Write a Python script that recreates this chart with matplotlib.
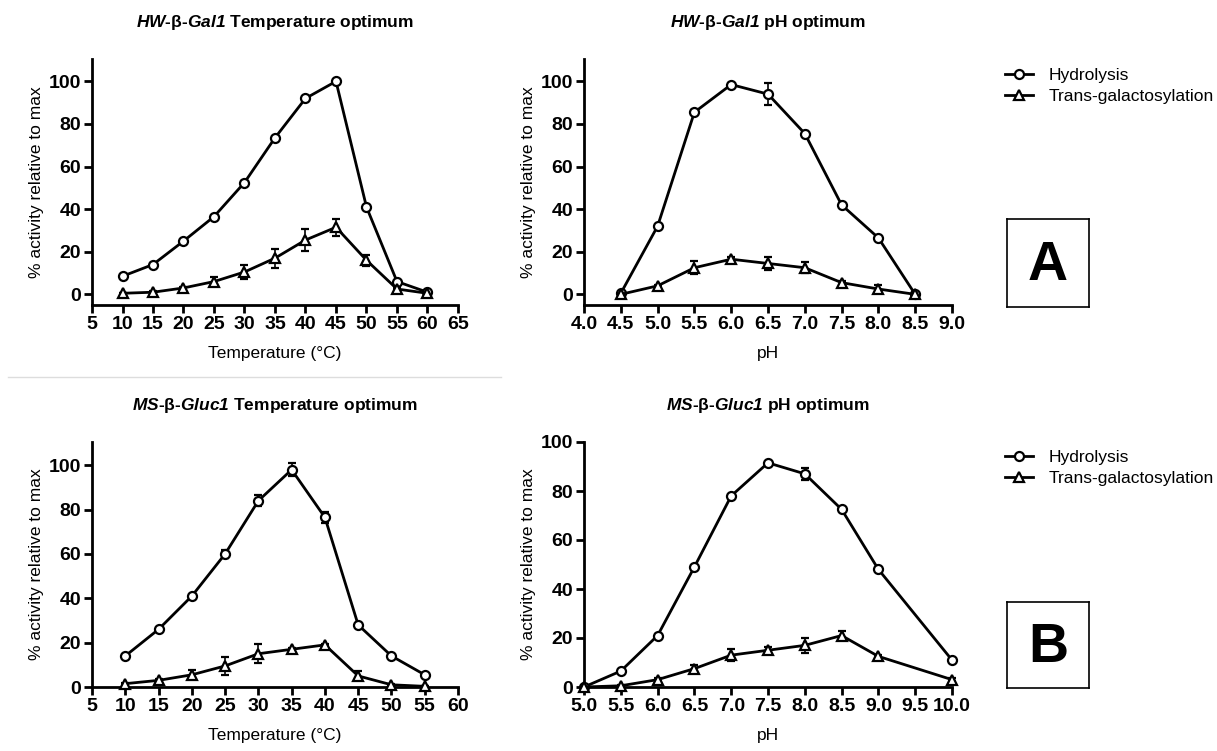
import matplotlib
matplotlib.use("Agg")
import matplotlib.pyplot as plt
from matplotlib.lines import Line2D
import numpy as np

plt.rcParams['font.family'] = ['Liberation Sans', 'DejaVu Sans']
plt.rcParams['mathtext.fontset'] = 'custom'
plt.rcParams['mathtext.it'] = 'Liberation Sans:italic:bold'
plt.rcParams['mathtext.rm'] = 'Liberation Sans:italic:bold'

# HW-beta-Gal1 temperature
hw_temp = [10, 15, 20, 25, 30, 35, 40, 45, 50, 55, 60]
hw_temp_hyd = [8.5, 14, 25, 36.5, 52.5, 73.5, 92, 100, 41, 6, 1]
hw_temp_hyd_err = [0.5, 0.5, 0.5, 0.5, 0.5, 0.5, 0.5, 0.5, 0.5, 0.5, 0]
hw_temp_tr = [0.5, 1, 3, 6, 10.5, 17, 25.5, 31.5, 16, 2.5, 0.5]
hw_temp_tr_err = [0, 0.5, 0.5, 2, 3.2, 4.5, 5, 4, 2.5, 0.5, 0]

# HW-beta-Gal1 pH
hw_ph = [4.5, 5.0, 5.5, 6.0, 6.5, 7.0, 7.5, 8.0, 8.5]
hw_ph_hyd = [0.5, 32, 85.5, 98.5, 94, 75.5, 42, 26.5, 0]
hw_ph_hyd_err = [0.5, 0.5, 1, 0.5, 5, 1, 0.5, 0.5, 0]
hw_ph_tr = [0, 4, 12.5, 16.5, 14.5, 12.5, 5.5, 2.5, 0]
hw_ph_tr_err = [0, 0.5, 3, 1, 3, 2.5, 1, 2, 0]

# MS-beta-Gluc1 temperature
ms_temp = [10, 15, 20, 25, 30, 35, 40, 45, 50, 55]
ms_temp_hyd = [14, 26, 41, 60, 84, 98, 76.5, 28, 14, 5.5]
ms_temp_hyd_err = [0.5, 0.5, 0.5, 2, 2.5, 3, 2.5, 0.5, 0.5, 0]
ms_temp_tr = [1.5, 3, 5.5, 9.5, 15, 17, 19, 5, 1, 0.3]
ms_temp_tr_err = [0.5, 0.5, 2, 4, 4.3, 0.5, 0.5, 2, 0.5, 0]

# MS-beta-Gluc1 pH
ms_ph = [5.0, 5.5, 6.0, 6.5, 7.0, 7.5, 8.0, 8.5, 9.0, 10.0]
ms_ph_hyd = [0, 6.5, 21, 49, 78, 91.5, 87, 72.5, 48, 11]
ms_ph_hyd_err = [0, 0.5, 0.5, 0.5, 0.5, 0.5, 2.5, 0.5, 0.5, 0.5]
ms_ph_tr = [0, 0.5, 3, 7.5, 13, 15, 17, 21, 12.5, 3]
ms_ph_tr_err = [0, 0.5, 0.5, 1.5, 2.5, 1.5, 3, 2, 0.5, 0.5]

titles = [r'$\mathit{HW}$-β-$\mathit{Gal1}$ Temperature optimum',
          r'$\mathit{HW}$-β-$\mathit{Gal1}$ pH optimum',
          r'$\mathit{MS}$-β-$\mathit{Gluc1}$ Temperature optimum',
          r'$\mathit{MS}$-β-$\mathit{Gluc1}$ pH optimum']
series_names = ['Hydrolysis', 'Trans-galactosylation']

W, H = 1217, 751
fig = plt.figure(figsize=(W / 100, H / 100), dpi=100)


def px_axes(x0, x1, ytop, ybot):
    return fig.add_axes([x0 / W, 1 - ybot / H, (x1 - x0) / W, (ybot - ytop) / H])


style = dict(color='black', lw=2, ms=6.5, mfc='white', mec='black', mew=1.6)


def draw(ax, x, hyd, hyd_err, tr, tr_err, title, xlabel, xlim, xticks, ylim, fmt):
    ax.errorbar(x, hyd, yerr=hyd_err, marker='o', capsize=3, elinewidth=1.2,
                capthick=1.2, clip_on=False, zorder=3, **style)
    ax.errorbar(x, tr, yerr=tr_err, marker='^', capsize=3, elinewidth=1.2,
                capthick=1.2, clip_on=False, zorder=3, **style)
    ax.set_xlim(*xlim)
    ax.set_ylim(*ylim)
    ax.set_xticks(xticks)
    ax.set_xticklabels([fmt % t for t in xticks])
    ax.set_yticks([0, 20, 40, 60, 80, 100])
    for s in ['top', 'right']:
        ax.spines[s].set_visible(False)
    for s in ['left', 'bottom']:
        ax.spines[s].set_linewidth(2)
    ax.tick_params(width=2, length=6, labelsize=14, direction='out', pad=2)
    for lab in ax.get_xticklabels() + ax.get_yticklabels():
        lab.set_fontweight('bold')
    ax.set_xlabel(xlabel, fontsize=12.5, labelpad=9)
    ax.set_ylabel('% activity relative to max', fontsize=12.5, labelpad=3)
    ax.set_title(title, fontsize=12.5, fontweight='bold', pad=23)


ax1 = px_axes(92, 458, 59, 305)
draw(ax1, hw_temp, hw_temp_hyd, hw_temp_hyd_err, hw_temp_tr, hw_temp_tr_err,
     titles[0], 'Temperature (°C)', (5, 65), list(range(5, 66, 5)), (-5, 110.5), '%d')

ax2 = px_axes(584, 952, 59, 305)
draw(ax2, hw_ph, hw_ph_hyd, hw_ph_hyd_err, hw_ph_tr, hw_ph_tr_err,
     titles[1], 'pH', (4.0, 9.0), list(np.arange(4.0, 9.01, 0.5)), (-5, 110.5), '%.1f')

ax3 = px_axes(92, 458, 442, 687)
draw(ax3, ms_temp, ms_temp_hyd, ms_temp_hyd_err, ms_temp_tr, ms_temp_tr_err,
     titles[2], 'Temperature (°C)', (5, 60), list(range(5, 61, 5)), (0, 110.5), '%d')

ax4 = px_axes(584, 952, 442, 687)
draw(ax4, ms_ph, ms_ph_hyd, ms_ph_hyd_err, ms_ph_tr, ms_ph_tr_err,
     titles[3], 'pH', (5.0, 10.0), list(np.arange(5.0, 10.01, 0.5)), (0, 100), '%.1f')

# legends
handles = [Line2D([], [], marker='o', **style), Line2D([], [], marker='^', **style)]
for ytop in [68, 450]:
    fig.legend(handles, series_names, loc='upper left',
               bbox_to_anchor=(1005 / W, 1 - ytop / H), frameon=False,
               fontsize=12.5, handlelength=1.6, handletextpad=0.9,
               labelspacing=0.35, borderaxespad=0, borderpad=0)

# panel letters
for letter, ytop, ybot in [('A', 219, 307), ('B', 602, 688)]:
    bx = px_axes(1007, 1089, ytop, ybot)
    bx.set_xticks([])
    bx.set_yticks([])
    for s in bx.spines.values():
        s.set_linewidth(1.2)
    bx.text(0.5, 0.47, letter, fontsize=40, fontweight='bold',
            ha='center', va='center', transform=bx.transAxes)

# separator
fig.add_artist(Line2D([8 / W, 501 / W], [1 - 377 / H] * 2, color='#dddddd', lw=1))

fig.savefig('out.png', dpi=100)
